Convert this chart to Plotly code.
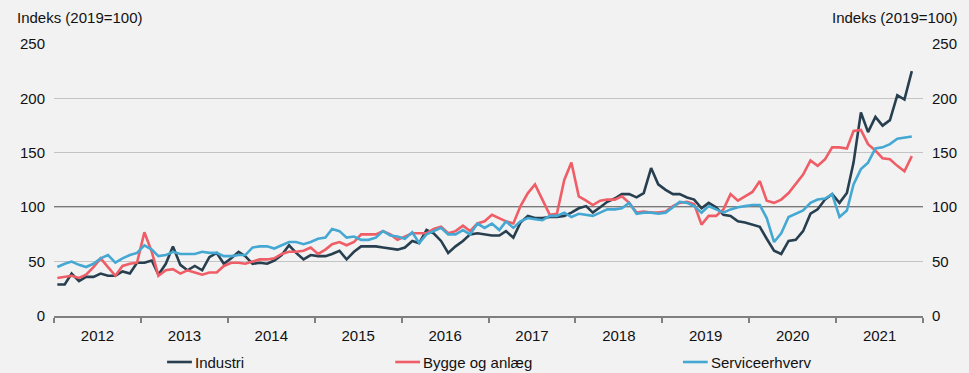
import pandas as pd
import plotly.graph_objects as go

# Monthly index values, Jan 2012 - Nov 2021 (2019 = 100)
months = (pd.date_range("2012-01-01", periods=119, freq="MS") + pd.Timedelta(days=14)).strftime("%Y-%m-%d").tolist()

industri = [
    29, 29, 39, 32, 36, 36, 39, 37, 37, 41, 39, 49,
    49, 51, 38, 48, 64, 47, 42, 46, 42, 54, 58, 48,
    53, 59, 55, 48, 49, 48, 51, 56, 65, 58, 52, 56,
    55, 55, 57, 60, 52, 59, 64, 64, 64, 63, 62, 61,
    63, 69, 67, 79, 76, 69, 58, 64, 69, 75, 76, 75,
    74, 74, 78, 72, 86, 92, 90, 90, 91, 91, 92, 95,
    99, 101, 95, 100, 105, 108, 112, 112, 109, 113, 136, 121,
    116, 112, 112, 109, 107, 99, 104, 100, 93, 92, 87, 86,
    84, 82, 71, 60, 57, 69, 70, 78, 94, 98, 107, 112,
    104, 113, 141, 187, 169, 183, 175, 180, 203, 199, 225,
]

bygge = [
    35, 36, 37, 35, 38, 45, 53, 45, 37, 46, 48, 49,
    77, 59, 37, 42, 43, 39, 42, 40, 38, 40, 40, 46,
    49, 49, 48, 50, 52, 52, 53, 57, 59, 59, 60, 63,
    57, 61, 66, 68, 65, 68, 75, 75, 75, 78, 75, 70,
    73, 76, 76, 76, 80, 82, 76, 78, 83, 78, 85, 87,
    93, 90, 87, 85, 101, 113, 121, 107, 93, 94, 125, 141,
    110, 106, 102, 106, 107, 107, 110, 104, 95, 96, 95, 95,
    96, 101, 104, 105, 103, 84, 92, 92, 98, 112, 106, 110,
    114, 124, 106, 104, 107, 113, 121, 130, 143, 138, 144, 155,
    155, 154, 170, 171, 158, 152, 145, 144, 138, 133, 147,
]

service = [
    45, 48, 50, 47, 45, 48, 53, 56, 49, 53, 56, 58,
    65, 61, 55, 56, 59, 57, 57, 57, 59, 58, 58, 55,
    55, 56, 56, 63, 64, 64, 62, 65, 68, 68, 66, 68,
    71, 72, 80, 78, 72, 73, 70, 70, 72, 78, 74, 73,
    71, 77, 67, 75, 78, 81, 75, 75, 79, 75, 85, 81,
    85, 79, 87, 81, 87, 90, 89, 88, 92, 92, 95, 91,
    94, 93, 92, 95, 98, 98, 99, 104, 94, 95, 95, 94,
    95, 100, 105, 104, 101, 95, 101, 98, 95, 98, 100, 101,
    102, 102, 90, 68, 76, 91, 94, 97, 104, 107, 108, 112,
    91, 97, 121, 135, 141, 154, 155, 158, 163, 164, 165,
]

series_names = ["Industri", "Bygge og anlæg", "Serviceerhverv"]
series_colors = ["#273f4f", "#ef5d66", "#45a8d3"]
y_ticks = [0, 50, 100, 150, 200, 250]
axis_title = "Indeks (2019=100)"

W, H = 969, 373
L, R, T, B = 54, 39, 44, 57
FONT = "Liberation Sans, Arial, sans-serif"
BG = "#f2f2f2"


def px_x(x):
    return (x - L) / (W - L - R)


def px_y(y):
    return (H - B - y) / (H - T - B)


fig = go.Figure()
for name, vals, col in zip(series_names, [industri, bygge, service], series_colors):
    fig.add_trace(go.Scatter(x=months, y=vals, mode="lines", name=name,
                             line=dict(color=col, width=2.6), showlegend=False))

# empty trace so the right-hand value axis is drawn
fig.add_trace(go.Scatter(x=[None], y=[None], yaxis="y2", showlegend=False, hoverinfo="skip"))

fig.update_layout(
    width=W, height=H,
    margin=dict(l=L, r=R, t=T, b=B),
    paper_bgcolor=BG, plot_bgcolor=BG,
    font=dict(family=FONT, size=15, color="#111111"),
    showlegend=False,
    xaxis=dict(
        type="date", range=["2012-01-01", "2022-01-01"],
        tick0="2012-01-01", dtick="M12", tickformat="%Y", ticklabelmode="period",
        ticks="outside", ticklen=5, tickwidth=1.5, tickcolor="#808080",
        showline=True, linecolor="#808080", linewidth=1.5,
        showgrid=False, zeroline=False,
        tickfont=dict(size=15),
    ),
    yaxis=dict(
        range=[0, 250], tickvals=y_ticks, showgrid=True,
        gridcolor="#c4c4c4", gridwidth=1.4, zeroline=False,
        ticks="", ticklabelstandoff=8, tickfont=dict(size=15),
    ),
    yaxis2=dict(
        range=[0, 250], tickvals=y_ticks, overlaying="y", side="right",
        showgrid=False, zeroline=False, ticks="", ticklabelstandoff=8,
        tickfont=dict(size=15),
    ),
)

# reference line at the 2019 level
fig.add_shape(type="line", xref="paper", x0=0, x1=1, yref="y", y0=100, y1=100,
              line=dict(color="#000000", width=1.6), layer="between")

# axis captions
fig.add_annotation(text=axis_title, xref="paper", yref="paper",
                   x=px_x(15), y=px_y(18), xanchor="left", yanchor="middle",
                   showarrow=False, font=dict(size=15))
fig.add_annotation(text=axis_title, xref="paper", yref="paper",
                   x=px_x(967), y=px_y(18), xanchor="right", yanchor="middle",
                   showarrow=False, font=dict(size=15))

# legend row
legend_x = [168, 398, 688]
for name, col, lx in zip(series_names, series_colors, legend_x):
    fig.add_shape(type="line", xref="paper", yref="paper",
                  x0=px_x(lx), x1=px_x(lx + 25), y0=px_y(362), y1=px_y(362),
                  line=dict(color=col, width=2.6))
    fig.add_annotation(text=name, xref="paper", yref="paper",
                       x=px_x(lx + 26), y=px_y(362.5), xanchor="left", yanchor="middle",
                       showarrow=False, font=dict(size=15))

fig.write_html("out.html")
